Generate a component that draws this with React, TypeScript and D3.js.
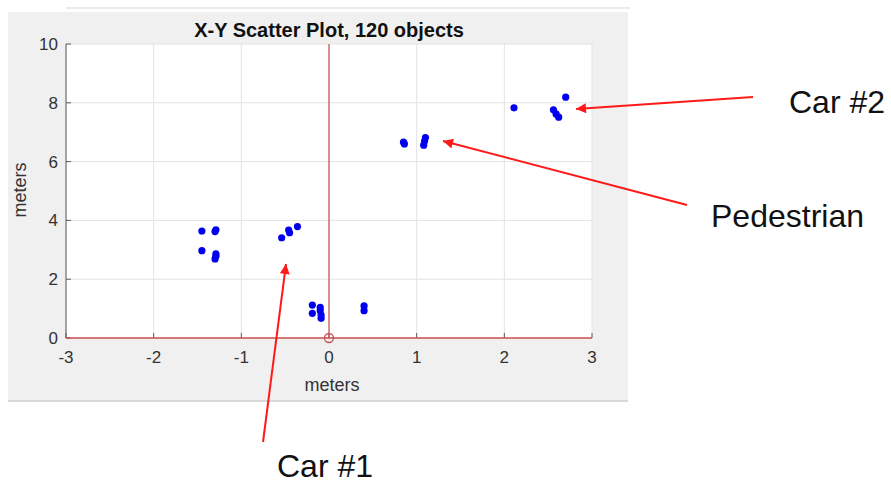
import React from "react";
import * as d3 from "d3";

const xTicks = [-3, -2, -1, 0, 1, 2, 3];
const yTicks = [0, 2, 4, 6, 8, 10];

// Detected objects (meters)
const pointsX = [
  -1.45, -1.29, -1.30, -1.45, -1.29, -1.29, -1.30,
  -0.54, -0.46, -0.45, -0.36,
  -0.19, -0.19, -0.10, -0.10, -0.09, -0.09,
  0.40, 0.40,
  0.85, 0.86, 1.08, 1.09, 1.10,
  2.11, 2.70, 2.56, 2.59, 2.62,
];
const pointsY = [
  3.64, 3.68, 3.62, 2.97, 2.86, 2.78, 2.69,
  3.41, 3.67, 3.58, 3.79,
  1.12, 0.84, 1.04, 0.93, 0.67, 0.78,
  1.09, 0.93,
  6.66, 6.60, 6.56, 6.70, 6.82,
  7.83, 8.19, 7.76, 7.62, 7.51,
];

const annotations = ["Car #2", "Pedestrian", "Car #1"];

const W = 891;
const H = 484;
const RED = "#c8504f";

export default function App() {
  const x = d3.scaleLinear().domain([-3, 3]).range([66, 592]);
  const y = d3.scaleLinear().domain([0, 10]).range([338, 44]);
  const font = "'Liberation Sans', Arial, sans-serif";

  const arrows = [
    { x1: 753, y1: 97, x2: 576, y2: 109, tx: 789, ty: 113, label: annotations[0] },
    { x1: 687, y1: 205, x2: 443, y2: 141, tx: 711, ty: 227, label: annotations[1] },
    { x1: 263, y1: 442, x2: 286, y2: 264, tx: 277, ty: 477, label: annotations[2] },
  ];

  return (
    <svg width={W} height={H} style={{ position: "absolute", left: 0, top: 0, background: "#fff" }}>
      <defs>
        <marker id="ah" viewBox="0 0 10 10" refX="10" refY="5" markerWidth="12" markerHeight="10" markerUnits="userSpaceOnUse" orient="auto">
          <path d="M0,0 L10,5 L0,10 z" fill="#ff1a1a" />
        </marker>
      </defs>
      {/* top thin line */}
      <line x1={66} x2={630} y1={8} y2={8} stroke="#e4e4e4" strokeWidth={1.5} />
      {/* figure panel */}
      <rect x={8} y={12} width={620} height={389} fill="#f0f0f0" />
      <line x1={8} x2={628} y1={401} y2={401} stroke="#cfcfcf" strokeWidth={1.5} />
      {/* plot area */}
      <rect x={x(-3)} y={y(10)} width={x(3) - x(-3)} height={y(0) - y(10)} fill="#fff" />
      {/* grid */}
      {xTicks.map((t) => (
        <line key={"gx" + t} x1={x(t)} x2={x(t)} y1={y(0)} y2={y(10)} stroke="#e3e3e3" strokeWidth={1} />
      ))}
      {yTicks.map((t) => (
        <line key={"gy" + t} x1={x(-3)} x2={x(3)} y1={y(t)} y2={y(t)} stroke="#e3e3e3" strokeWidth={1} />
      ))}
      {/* left axis */}
      <line x1={x(-3)} x2={x(-3)} y1={y(0)} y2={y(10)} stroke="#5a5a5a" strokeWidth={1} />
      {yTicks.map((t) => (
        <line key={"ty" + t} x1={x(-3)} x2={x(-3) + 5} y1={y(t)} y2={y(t)} stroke="#5a5a5a" strokeWidth={1} />
      ))}
      {xTicks.map((t) => (
        <line key={"tx" + t} x1={x(t)} x2={x(t)} y1={y(0)} y2={y(0) - 5} stroke="#5a5a5a" strokeWidth={1} />
      ))}
      {/* red axes lines */}
      <line x1={x(0)} x2={x(0)} y1={y(10)} y2={y(0)} stroke={RED} strokeWidth={1.2} />
      <line x1={x(-3)} x2={x(3)} y1={y(0)} y2={y(0)} stroke={RED} strokeWidth={1.5} />
      <circle cx={x(0)} cy={y(0)} r={4.5} fill="none" stroke={RED} strokeWidth={1.3} />
      {/* tick labels */}
      {yTicks.map((t) => (
        <text key={"ly" + t} x={x(-3) - 8} y={y(t)} dy="0.35em" textAnchor="end" fontFamily={font} fontSize={17} fill="#333">
          {t}
        </text>
      ))}
      {xTicks.map((t) => (
        <text key={"lx" + t} x={x(t)} y={y(0) + 25} textAnchor="middle" fontFamily={font} fontSize={17} fill="#333">
          {t}
        </text>
      ))}
      <text x={x(0) + 3} y={391} textAnchor="middle" fontFamily={font} fontSize={18} fill="#333">meters</text>
      <text transform={`translate(26,${y(5) - 1}) rotate(-90)`} textAnchor="middle" fontFamily={font} fontSize={18} fill="#333">meters</text>
      <text x={x(0)} y={37} textAnchor="middle" fontFamily={font} fontSize={20} fontWeight="bold" fill="#111">
        X-Y Scatter Plot, 120 objects
      </text>
      {/* points */}
      {pointsX.map((px, i) => (
        <circle key={"p" + i} cx={x(px)} cy={y(pointsY[i])} r={3.6} fill="#0000ee" />
      ))}
      {/* annotations */}
      {arrows.map((a, i) => (
        <g key={"a" + i}>
          <line x1={a.x1} y1={a.y1} x2={a.x2} y2={a.y2} stroke="#ff1a1a" strokeWidth={2} markerEnd="url(#ah)" />
          <text x={a.tx} y={a.ty} fontFamily={font} fontSize={32} fill="#111">{a.label}</text>
        </g>
      ))}
    </svg>
  );
}
